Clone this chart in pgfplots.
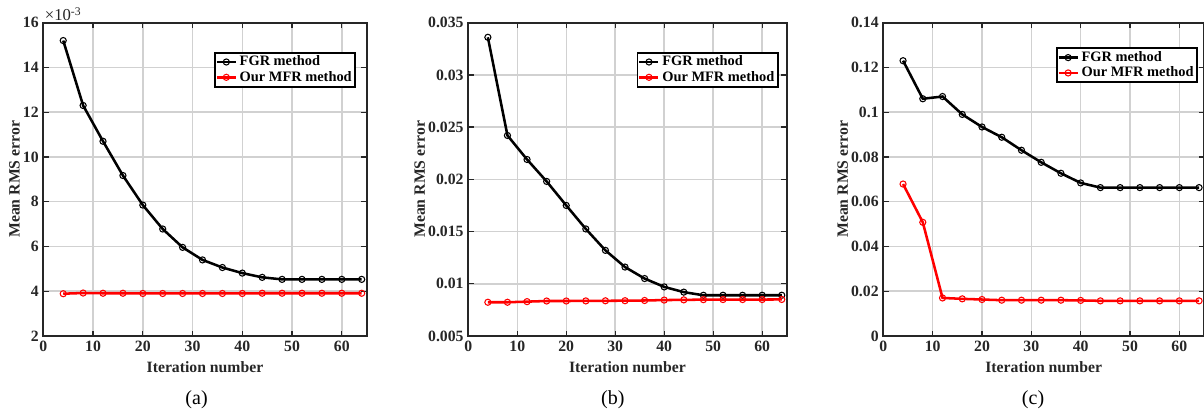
\documentclass[border=0pt]{standalone}
\usepackage{pgfplots}
\pgfplotsset{compat=1.18}
\usepackage{fontspec}
\setmainfont{Liberation Serif}
\definecolor{txt}{HTML}{262626}
\tikzset{subcap/.style={font=\fontsize{15}{16}\selectfont, text=black}}
\pgfplotsset{
 base/.style={
  scale only axis, xmin=0, xmax=65, xtick={0,10,...,60},
  clip mode=individual,
  grid=major, major grid style={black!18, line width=1.1pt},
  axis line style={txt, line width=1.4pt},
  tick style={txt, line width=1pt}, major tick length=4pt,
  tick label style={font=\bfseries\fontsize{11.8}{13}\selectfont, text=txt},
  /pgf/number format/assume math mode=true,
  label style={font=\bfseries\fontsize{11.8}{13}\selectfont, text=txt},
  xlabel={Iteration number}, ylabel={Mean RMS error},
  xlabel style={yshift=-1pt},
  ylabel style={yshift=-4.5pt},
  legend cell align=left,
  legend style={font=\bfseries\fontsize{10.8}{11.5}\selectfont, draw=black, line width=1.3pt, inner sep=0.5pt, row sep=-1.5pt, anchor=north west},
  legend image code/.code={\draw[mark repeat=2,mark phase=2,##1] plot coordinates {(0cm,0cm) (0.25cm,0cm) (0.5cm,0cm)};},
  every axis plot/.append style={line width=1.9pt, mark=o, mark size=2.3pt, mark options={line width=0.8pt, solid}},
  scaled y ticks=false,
 },
 fgr/.style={black},
 mfr/.style={red},
}
\begin{document}
\begin{tikzpicture}
% (a)
\begin{axis}[base, at={(32.5pt,60.75pt)}, anchor=south west, width=242.5pt, height=235pt,
  ymin=2, ymax=16, ytick={2,4,...,16},
  legend style={at={(0.528,0.907)}}]
\addplot[fgr] coordinates {(4,15.2) (8,12.3) (12,10.7) (16,9.17) (20,7.85) (24,6.78) (28,5.96) (32,5.40) (36,5.06) (40,4.81) (44,4.62) (48,4.53) (52,4.53) (56,4.53) (60,4.53) (64,4.53)};
\addplot[mfr] coordinates {(4,3.89) (8,3.92) (12,3.91) (16,3.91) (20,3.90) (24,3.90) (28,3.90) (32,3.90) (36,3.90) (40,3.90) (44,3.91) (48,3.91) (52,3.91) (56,3.91) (60,3.91) (64,3.91)};
\legend{FGR method, Our MFR method}
\node[anchor=south west, inner sep=1pt, font=\fontsize{12.5}{13}\selectfont, text=txt] at (rel axis cs:0,1) {×10\textsuperscript{-3}};
\node[subcap] at (rel axis cs:0.474,0) [yshift=-48pt] {(a)};
\end{axis}
% (b)
\begin{axis}[base, at={(351.2pt,60.75pt)}, anchor=south west, width=238.8pt, height=235pt,
  ymin=0.005, ymax=0.035, ytick={0.005,0.01,0.015,0.02,0.025,0.03,0.035},
  yticklabels={0.005,0.01,0.015,0.02,0.025,0.03,0.035},
  legend style={at={(0.529,0.907)}}]
\addplot[fgr] coordinates {(4,0.0336) (8,0.0242) (12,0.0219) (16,0.0198) (20,0.0175) (24,0.01525) (28,0.0132) (32,0.0116) (36,0.0105) (40,0.0097) (44,0.0092) (48,0.0089) (52,0.0089) (56,0.0089) (60,0.0089) (64,0.0089)};
\addplot[mfr] coordinates {(4,0.00823) (8,0.00823) (12,0.00829) (16,0.00835) (20,0.00835) (24,0.00836) (28,0.00837) (32,0.00838) (36,0.00840) (40,0.00844) (44,0.00846) (48,0.00848) (52,0.00849) (56,0.00849) (60,0.00849) (64,0.00850)};
\legend{FGR method, Our MFR method}
\node[subcap] at (rel axis cs:0.454,0) [yshift=-48pt] {(b)};
\end{axis}
% (c)
\begin{axis}[base, at={(662.5pt,60.75pt)}, anchor=south west, width=240.5pt, height=235pt,
  ymin=0, ymax=0.14, ytick={0,0.02,0.04,0.06,0.08,0.1,0.12,0.14},
  yticklabels={0,0.02,0.04,0.06,0.08,0.1,0.12,0.14},
  legend style={at={(0.538,0.921)}}]
\addplot[fgr] coordinates {(4,0.123) (8,0.106) (12,0.107) (16,0.099) (20,0.0934) (24,0.0888) (28,0.0830) (32,0.0776) (36,0.0727) (40,0.0684) (44,0.0663) (48,0.0663) (52,0.0663) (56,0.0663) (60,0.0663) (64,0.0663)};
\addplot[mfr] coordinates {(4,0.0679) (8,0.0508) (12,0.0170) (16,0.0166) (20,0.0163) (24,0.0160) (28,0.0160) (32,0.0160) (36,0.0160) (40,0.0159) (44,0.0157) (48,0.0157) (52,0.0157) (56,0.0157) (60,0.0157) (64,0.0157)};
\legend{FGR method, Our MFR method}
\node[subcap] at (rel axis cs:0.467,0) [yshift=-48pt] {(c)};
\end{axis}
\pgfresetboundingbox
\useasboundingbox (0,0) rectangle (903pt,312.75pt);
\end{tikzpicture}
\end{document}
